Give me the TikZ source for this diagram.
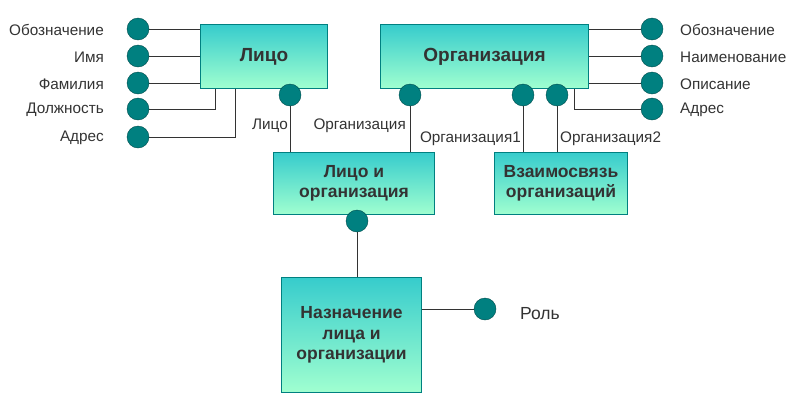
\documentclass[tikz,border=0pt]{standalone}
\usepackage{fontspec}
\setmainfont{Liberation Sans}
\definecolor{teal1}{RGB}{0,128,128}
\definecolor{topc}{RGB}{55,204,204}
\definecolor{botc}{RGB}{160,255,208}
\definecolor{txt}{RGB}{51,51,51}
\tikzset{
  ent/.style={draw=teal1, line width=1pt, top color=topc, bottom color=botc, shading angle=0, anchor=north west, inner sep=0pt, align=center, font=\fontsize{17.5}{20.5}\selectfont\bfseries, text=txt},
  attr/.style={circle, draw=teal1!60!black, fill=teal1, minimum size=22pt, inner sep=0pt},
  lbl/.style={font=\fontsize{15.3}{17}\selectfont, text=txt, inner sep=0pt},
  con/.style={draw=black!80, line width=0.8pt}
}
\begin{document}
\begin{tikzpicture}[x=1pt,y=-1pt]
\useasboundingbox (0,0) rectangle (792,402);
% entities
\node[ent, minimum width=127pt, minimum height=64pt, font=\fontsize{19}{22}\selectfont\bfseries] (lico) at (200,24) {Лицо};
\node[ent, minimum width=208pt, minimum height=64pt, font=\fontsize{19}{22}\selectfont\bfseries] (org) at (380,24) {Организация};
\node[ent, minimum width=161pt, minimum height=62pt] (lo) at (273,152) {Лицо и\\организация};
\node[ent, minimum width=133pt, minimum height=62pt] (vz) at (494,152) {Взаимосвязь\\организаций};
\node[ent, minimum width=140pt, minimum height=115pt] (nz) at (281,277) {Назначение\\лица и\\организации};

% left attributes
\foreach \n/\y in {a1/29,a2/56,a3/83,a4/109,a5/137} {\node[attr] (\n) at (138,\y) {};}
\node[lbl, anchor=east] (la1) at (104,30) {Обозначение};
\node[lbl, anchor=east] (la2) at (104,57) {Имя};
\node[lbl, anchor=east] (la3) at (104,84) {Фамилия};
\node[lbl, anchor=east] (la4) at (104,110) {Должность};
\node[lbl, anchor=east] (la5) at (104,138) {Адрес};
\draw[con] (a1.east) -- (lico.west |- a1);
\draw[con] (a2.east) -- (lico.west |- a2);
\draw[con] (a3.east) -- (lico.west |- a3);
\coordinate (k4) at (215,109);
\coordinate (k5) at (235,137);
\draw[con] (a4.east) -- (k4) -- (k4 |- lico.south);
\draw[con] (a5.east) -- (k5) -- (k5 |- lico.south);

% right attributes
\foreach \n/\y in {b1/29,b2/56,b3/83,b4/109} {\node[attr] (\n) at (652,\y) {};}
\node[lbl, anchor=west] (lb1) at (680,30) {Обозначение};
\node[lbl, anchor=west] (lb2) at (680,57) {Наименование};
\node[lbl, anchor=west] (lb3) at (680,84) {Описание};
\node[lbl, anchor=west] (lb4) at (680,110) {Адрес};
\draw[con] (org.east |- b1) -- (b1.west);
\draw[con] (org.east |- b2) -- (b2.west);
\draw[con] (org.east |- b3) -- (b3.west);
\coordinate (m4) at (574,109);
\draw[con] (m4 |- org.south) -- (m4) -- (b4.west);

% relationship circles
\node[attr] (c1) at (290,95) {};
\node[attr] (c2) at (410,95) {};
\node[attr] (c3) at (523,95) {};
\node[attr] (c4) at (557,95) {};
\node[attr] (c5) at (357,221) {};
\node[attr] (c6) at (485,309) {};
\draw[con] (c1.south) -- (c1.south |- lo.north);
\draw[con] (c2.south) -- (c2.south |- lo.north);
\draw[con] (c3.south) -- (c3.south |- vz.north);
\draw[con] (c4.south) -- (c4.south |- vz.north);
\draw[con] (c5.south) -- (c5.south |- nz.north);
\draw[con] (nz.east |- c6) -- (c6.west);

\node[lbl, anchor=east] (l1) at (288,126) {Лицо};
\node[lbl, anchor=east] (l2) at (406,126) {Организация};
\node[lbl, anchor=east] (l3) at (521,139) {Организация1};
\node[lbl, anchor=west] (l4) at (560,139) {Организация2};
\node[lbl, anchor=west, font=\fontsize{17.5}{20}\selectfont] (l5) at (520,314) {Роль};
\end{tikzpicture}
\end{document}
